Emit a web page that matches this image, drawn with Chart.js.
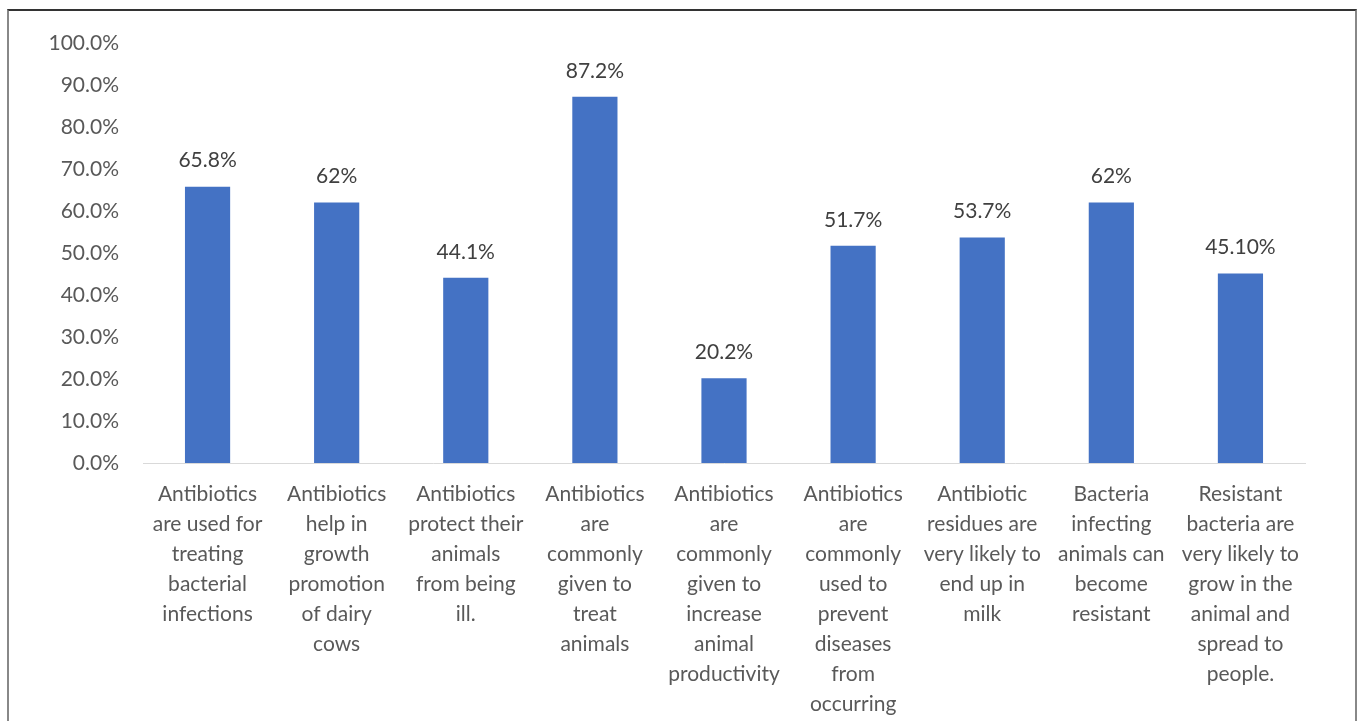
<!DOCTYPE html>
<html>
<head>
<meta charset="utf-8">
<script src="https://cdn.jsdelivr.net/npm/chart.js@4.4.1/dist/chart.umd.min.js"></script>
<style>
  html, body { margin: 0; padding: 0; background: #fff; }
  #wrap { position: relative; width: 1357px; height: 721px; overflow: hidden; }
  #frame {
    position: absolute; left: 7px; top: 9px; width: 1346px; height: 730px;
    border-top: 2px solid #333; border-left: 2px solid #888; border-right: 2px solid #888;
  }
  canvas { position: absolute; left: 0; top: 0; }
</style>
</head>
<body>
<div id="wrap">
  <div id="frame"></div>
  <canvas id="chart" width="1357" height="721"></canvas>
</div>
<script>
// categories (already broken into lines as in the picture)
const categories = [
  ['Antibiotics', 'are used for', 'treating', 'bacterial', 'infections'],
  ['Antibiotics', 'help in', 'growth', 'promotion', 'of dairy', 'cows'],
  ['Antibiotics', 'protect their', 'animals', 'from being', 'ill.'],
  ['Antibiotics', 'are', 'commonly', 'given to', 'treat', 'animals'],
  ['Antibiotics', 'are', 'commonly', 'given to', 'increase', 'animal', 'productivity'],
  ['Antibiotics', 'are', 'commonly', 'used to', 'prevent', 'diseases', 'from', 'occurring'],
  ['Antibiotic', 'residues are', 'very likely to', 'end up in', 'milk'],
  ['Bacteria', 'infecting', 'animals can', 'become', 'resistant'],
  ['Resistant', 'bacteria are', 'very likely to', 'grow in the', 'animal and', 'spread to', 'people.']
];
const values = [65.8, 62, 44.1, 87.2, 20.2, 51.7, 53.7, 62, 45.1];
const valueLabels = ['65.8%', '62%', '44.1%', '87.2%', '20.2%', '51.7%', '53.7%', '62%', '45.10%'];

const FONT = 'Lato, "Open Sans", sans-serif';

// draws the value text above each bar
const barLabels = {
  id: 'barLabels',
  afterDatasetsDraw(chart) {
    const ctx = chart.ctx;
    const meta = chart.getDatasetMeta(0);
    ctx.save();
    ctx.font = '21px ' + FONT;
    ctx.fillStyle = '#404040';
    ctx.textAlign = 'center';
    ctx.textBaseline = 'middle';
    meta.data.forEach((bar, i) => {
      ctx.fillText(valueLabels[i], bar.x, bar.y - 26);
    });
    ctx.restore();
  }
};

new Chart(document.getElementById('chart'), {
  type: 'bar',
  data: {
    labels: categories,
    datasets: [{
      data: values,
      backgroundColor: '#4472C4',
      categoryPercentage: 1,
      barPercentage: 0.35
    }]
  },
  options: {
    responsive: false,
    animation: false,
    layout: { padding: { top: 43, right: 52, left: 0, bottom: 0 } },
    plugins: { legend: { display: false }, tooltip: { enabled: false } },
    scales: {
      y: {
        min: 0,
        max: 100,
        afterFit: s => { s.width = 143; },
        grid: { display: false, drawTicks: false },
        border: { display: false },
        ticks: {
          stepSize: 10,
          padding: 24,
          color: '#595959',
          font: { family: FONT, size: 21 },
          callback: v => v.toFixed(1) + '%'
        }
      },
      x: {
        afterFit: s => { s.height = 258; },
        grid: { display: false, drawTicks: false },
        border: { display: true, color: '#d9d9d9', width: 1 },
        ticks: {
          autoSkip: false,
          maxRotation: 0,
          padding: 16,
          color: '#595959',
          font: { family: FONT, size: 21, lineHeight: 1.43 }
        }
      }
    }
  },
  plugins: [barLabels]
});
</script>
</body>
</html>
